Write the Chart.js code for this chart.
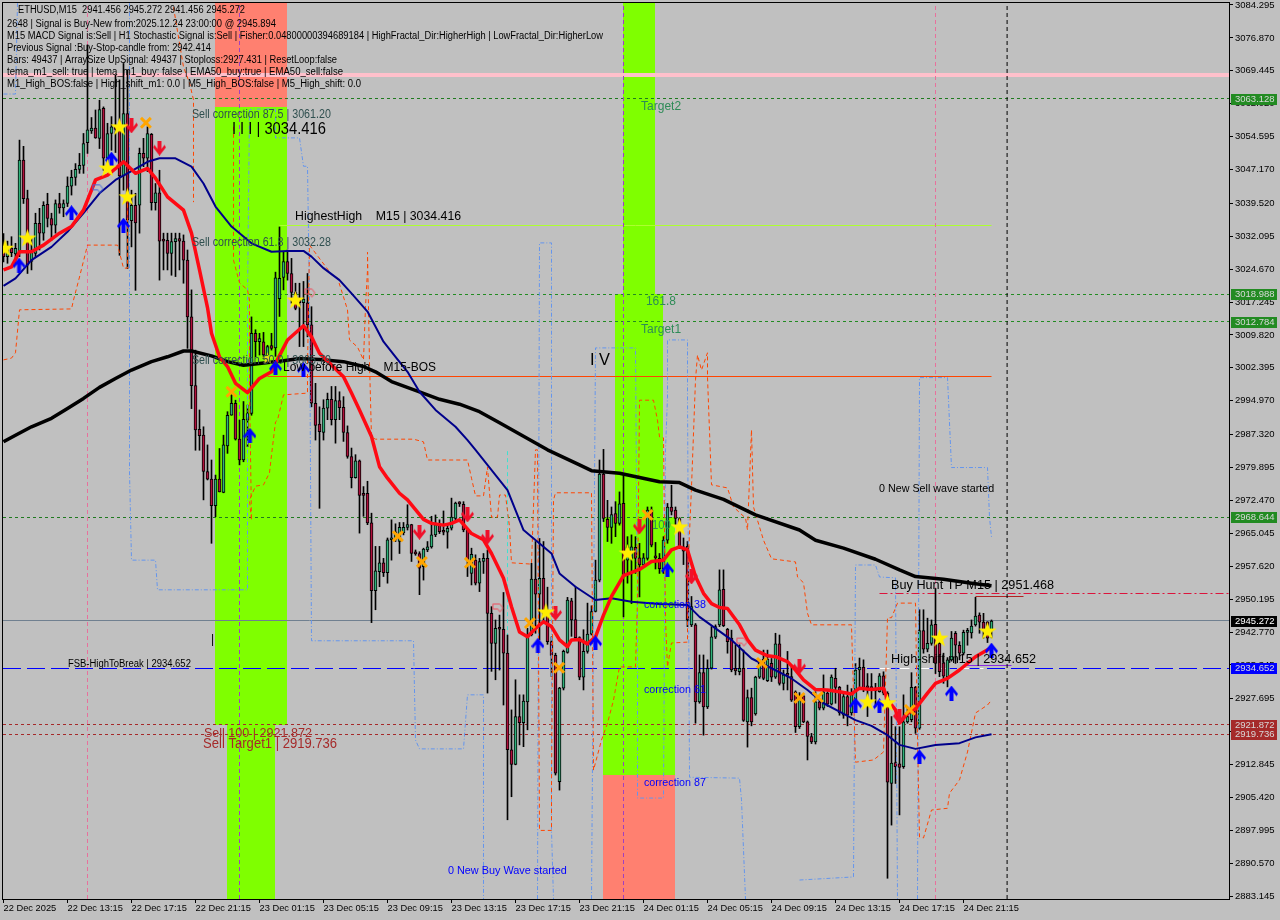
<!DOCTYPE html>
<html>
<head>
<meta charset="utf-8">
<title>ETHUSD,M15</title>
<script src="https://cdn.jsdelivr.net/npm/chart.js@4/dist/chart.umd.js"></script>
<style>
  html, body { margin: 0; padding: 0; background: #c0c0c0; }
  canvas { display: block; }
</style>
</head>
<body>
<canvas id="chart-main" width="1280" height="920"></canvas>
<script>
// candles, one value per 15 minute bar
const barOpen = [
  3029.4,3027.5,3029.4,3028.1,3028.6,3049.3,3040.6,3026.4,3028.2,3035,
  3032.8,3039.3,3036.1,3034.6,3039.5,3038.5,3039.5,3043.4,3045.4,3047.2,
  3048.1,3053.2,3055.9,3056.5,3054.2,3061,3049.7,3055.3,3056.8,3056.8,
  3045.7,3059.8,3035.6,3039.1,3039.1,3050.8,3049.7,3055.1,3039.7,3041.9,
  3031.2,3031.2,3028.2,3030.9,3031.6,3031,3026.7,3013.9,2998.4,2988.5,
  2987.2,2979,2977.3,2971.3,2977.3,2974.3,2984.8,2991.7,2994.4,2986.3,
  2981.6,2990.6,2992.1,3010.2,3008.3,3008.3,3005.3,3007.4,3006.9,3018,
  3022.8,3026.4,3023.7,3019.4,3017.7,3017.1,3017.1,3012.1,2994.4,2989.7,
  2987.8,2993.3,2995.3,2990.7,2995,2993.5,2987.8,2982.4,2977.6,2981.4,
  2974.1,2974.1,2967.4,2952.1,2956.4,2958.4,2956.2,2963.6,2963.7,2963.2,
  2965.2,2966.4,2967,2960.5,2960.5,2957.5,2961.3,2962,2964.7,2967,
  2965.4,2965.3,2966.2,2968.4,2971.9,2971.6,2965.8,2956,2959,2953.8,
  2958.7,2959.4,2947,2940.2,2943.6,2943.4,2938,2916.2,2912.9,2923.7,
  2922.3,2927,2942.1,2954.7,2951.3,2954.9,2947,2940.6,2937.5,2909,
  2930.1,2938.2,2949.8,2945.6,2941.5,2932.6,2938.4,2942.3,2947.4,2954.5,
  2978.4,2968.2,2966.4,2969.5,2967.3,2971.8,2959,2959.4,2961.9,2959.5,
  2957.9,2959.4,2970.3,2960,2959.4,2957.1,2963.5,2971,2970.3,2968.4,
  2962,2962.1,2944.4,2944.4,2927,2933.6,2925.9,2934.6,2941.6,2944.4,
  2952.4,2943.4,2941.4,2934.6,2933.8,2934.6,2922.5,2928,2924.3,2932.6,
  2936.6,2931.8,2935.7,2932.6,2940.1,2931.2,2933.1,2932.7,2929.3,2921.4,
  2928.4,2922.5,2919.2,2918,2927,2925.6,2929,2926.5,2932.3,2930.3,
  2924,2928.2,2924.5,2927.4,2934.2,2934.8,2930.4,2930.2,2930,2929.3,
  2932.9,2929,2908.6,2913.3,2913,2912.4,2922.5,2923,2930.3,2921.1,
  2943.1,2938.9,2940.2,2944.5,2940.2,2935.8,2932.7,2936.5,2942.5,2939.8,
  2938,2942.7,2942.6,2944.4,2946.6,2945,2945.1,2943.1
];
const barHigh = [
  3032.7,3031,3032,3030.5,3053.8,3052.4,3042.5,3032,3037.3,3038.4,
  3039.9,3041.8,3037.3,3040.3,3041.8,3040.3,3045.5,3047,3048.5,3050.8,
  3055.3,3075.3,3058.9,3060.6,3062.8,3061.3,3057.6,3059.1,3068.5,3067.4,
  3071.1,3069.6,3042.5,3041.8,3052,3054.2,3056.8,3055.3,3044,3047,
  3032.8,3032.8,3032.8,3032.8,3032.8,3032.4,3029,3020,3006.4,2992.9,
  2989.1,2985,2981.6,2978.2,2984.2,2987.2,2992.5,2996.3,2995.1,2990.6,
  2994.8,2994,3013.9,3011,3010.2,3010.4,3007.5,3010.2,3024,3034.2,
  3028.6,3029,3027.1,3021.5,3021.5,3021.9,3023.7,3016.2,2998.9,2993.6,
  2995.2,2996.7,2998.2,2998.2,2997,2995.9,2989.3,2984.3,2982.8,2981.6,
  2975.6,2976.8,2969.6,2962.1,2962.1,2959.4,2964,2968.1,2967.2,2967.5,
  2967.5,2971.5,2967.1,2961.3,2960.9,2961.7,2963.2,2968.9,2969.2,2968.1,
  2970.1,2967.3,2973,2972.1,2972.2,2972.2,2966.2,2961.7,2960.2,2959.4,
  2960.5,2961.3,2948.5,2945.5,2946.6,2951.7,2942.1,2925.2,2932,2928.6,
  2928.6,2943.6,2958.3,2963.2,2963.9,2963.2,2952.9,2941.7,2938,2930.3,
  2938.7,2950.6,2950.4,2953,2941.7,2943.3,2949.3,2948.7,2959,2981.6,
  2984,2972.5,2971,2972.2,2974.4,2978.6,2964.3,2964.7,2964.3,2962.8,
  2960.5,2971,2971,2963,2960.5,2964.3,2971.8,2975.9,2971,2968.6,
  2964,2963.2,2950.8,2944.7,2937.6,2937.6,2936.5,2944,2944.4,2956.8,
  2956.8,2943.6,2943.2,2939.9,2939.9,2938.7,2929.7,2930.1,2932.8,2936.5,
  2938.7,2938.7,2936.8,2942.5,2942.1,2934.2,2938.4,2935,2929.5,2929.1,
  2928.6,2922.7,2919.9,2929.3,2927.8,2933.1,2929.3,2933.1,2934.6,2930.5,
  2929.3,2930.8,2930,2935.7,2936.9,2936.5,2933.4,2933.4,2931.2,2933.4,
  2933.8,2929.3,2923.7,2921.4,2921.4,2928.6,2925.5,2933.6,2930.5,2947.8,
  2947.8,2945.9,2945.5,2952.6,2941,2938,2937,2942.9,2942.9,2940.6,
  2943.2,2943.6,2945.5,2950.6,2947.1,2947,2945.1,2945.5
];
const barLow = [
  3026.3,3026,3027.5,3026,3027.5,3039.5,3023.7,3024.5,3027.5,3029,
  3031.2,3034.2,3031.2,3032.8,3037.3,3036.5,3038.8,3041.4,3043.6,3046.3,
  3046.3,3050.8,3055.3,3054.2,3051.9,3047,3047,3051.5,3051,3027.8,
  3042.5,3024.8,3029.7,3019.9,3032.8,3047.8,3046.7,3038,3038,3022.2,
  3024.5,3024.5,3023.3,3023,3024.5,3021.5,3006.8,2993.2,2983.8,2983.8,
  2972.6,2977.1,2962.8,2968.8,2974.4,2974.2,2983.1,2991.7,2986.1,2980.5,
  2981.2,2984.6,2991.7,3004.9,3005.3,3004.5,3003.4,3006.4,3005,3014,
  3020,3022.2,3017,3015.5,3007.2,3007.2,3009.4,2993.6,2986.1,2970.7,
  2986.1,2990.7,2989.5,2985.4,2990.7,2985.8,2982,2975.3,2977.5,2965.1,
  2968.9,2967,2944.9,2947.8,2953,2955.3,2953.8,2959,2963.2,2960.5,
  2964.7,2965.8,2958.7,2960.1,2951.2,2954.5,2960.9,2961.7,2964.3,2965,
  2964.7,2961.7,2965.8,2968.1,2971.1,2965.4,2955.3,2953.4,2953.4,2951.9,
  2956,2929,2933.9,2932,2934.2,2926.3,2900.4,2905.6,2912.8,2917.3,
  2916.9,2920.7,2941.9,2942.5,2941,2945,2940,2932.7,2910.5,2907.1,
  2929.7,2938,2941.8,2941.3,2932,2929.7,2938,2942.1,2947.3,2954.1,
  2967.7,2963.2,2962.8,2964.3,2966.9,2946.2,2953.8,2949.2,2956,2950.7,
  2957.5,2959,2962,2957,2956,2956,2962.8,2969.2,2966.9,2961.6,
  2958,2944,2944,2922.2,2926.7,2919.5,2925.5,2934.4,2941.3,2944,
  2944,2938,2933.8,2933.1,2933.1,2922.6,2916.8,2921.6,2924,2932.3,
  2932,2931.6,2931.6,2932.3,2930.8,2929.7,2929.7,2927.1,2920.1,2921,
  2922.3,2913.9,2917.6,2917.5,2925.2,2925.2,2926,2926.3,2926.7,2924,
  2923.3,2921.6,2924,2925.2,2930.4,2929.3,2923.7,2927.4,2925.9,2929.2,
  2928.6,2887.2,2899.2,2908.6,2901.5,2912,2922.2,2922.5,2919.9,2920.8,
  2938,2938.3,2939.8,2933.4,2932.7,2931.2,2930.4,2936.2,2935.7,2936.5,
  2937.6,2939.8,2941.4,2944.1,2942.5,2941.4,2940.4,2941.456
];
const barClose = [
  3027.5,3029.4,3028.4,3029.4,3049.3,3040.6,3025.6,3029,3035,3032.8,
  3039.1,3036.1,3034.6,3039.5,3038.5,3039.5,3043.4,3045.4,3047.2,3048.1,
  3053,3056.1,3056.5,3054.3,3060.7,3049.7,3055.3,3056.8,3056.2,3045.7,
  3059.8,3035.8,3039.1,3035.1,3050.8,3049.7,3055.3,3039.7,3041.9,3031,
  3031,3028.2,3030.9,3031.6,3031,3026.7,3013.9,2998.4,2988.4,2987.1,
  2979,2977.3,2971.3,2977.3,2974.4,2985,2991.7,2994.4,2986.3,2981.6,
  2990.8,2992.1,3010.2,3008.3,3009,3005.3,3007.2,3006.8,3022.7,3022.6,
  3026.4,3023.7,3019.4,3015.8,3017.1,3017.9,3012.1,2994.4,2989.4,2988,
  2993.3,2995.3,2990.7,2995,2993.4,2987.8,2982.4,2977.6,2981.4,2973.6,
  2973.6,2967.4,2952.1,2956.6,2958.4,2956.2,2963.6,2963.7,2965.4,2966.4,
  2966.4,2967,2960.5,2960.4,2957.2,2961.5,2962,2964.7,2967,2965.4,
  2965.3,2966.2,2968.7,2971.9,2971.7,2965.8,2959,2960.3,2953.8,2958.7,
  2959.4,2947,2940.2,2943.6,2943.4,2938,2916.2,2912.9,2923.7,2922.3,
  2927.2,2942.1,2954.7,2951.3,2954.9,2947,2940.6,2937.5,2910.9,2930.1,
  2938.4,2950,2945.5,2941.5,2932.6,2938.4,2942.3,2947.4,2954.5,2978.4,
  2968.4,2966.4,2969.3,2967.3,2971.7,2955.2,2962,2962,2959.4,2957.9,
  2959.5,2970.3,2962.4,2959.5,2957.1,2963.5,2971,2970,2968.4,2962,
  2961,2945.5,2948.5,2927,2933.6,2925.9,2934.6,2941.7,2944,2952.3,
  2944.2,2940.6,2934.2,2934,2934.6,2922.8,2928,2922.5,2932.6,2935.7,
  2932.3,2936.6,2932.6,2940.1,2931.2,2933.1,2933,2927.4,2921.4,2928.4,
  2922.5,2919.2,2918,2927,2925.6,2929.3,2926.5,2932.6,2930.3,2924.5,
  2928.2,2924,2929,2934.2,2934.8,2929.7,2930.2,2930,2929.5,2932.9,
  2929,2908.9,2913.2,2912.4,2912.2,2922.5,2923.7,2930.3,2921.1,2943.1,
  2938.9,2940.2,2944.4,2935.7,2933.8,2932.8,2936.5,2941.4,2939.8,2938,
  2942.7,2943,2944.1,2946.4,2945,2943.2,2941.4,2945.272
];

// moving averages, read at bar positions [bar index], [price]
const fastBars = [0,2,4,7,10,14,17,20,23,26,30,33,36,38,41,45,47,49,51,52,54,56,58,61,64,67,68,71,75,77,79,85,87,89,92,94,96,99,101,105,107,110,112,114,117,120,122,125,127,129,131,133,135,137,139,141,142,144,146,148,150,152,155,159,162,165,167,169,171,173,175,177,179,181,184,186,188,191,193,196,198,200,203,206,209,212,214,217,220,221,223,224,226,228,231,233,236,239,243,247];
const fastVals = [3024.5,3025.2,3028.6,3028.6,3030.1,3032.8,3034.3,3038,3044.8,3045.9,3048.9,3046.3,3047.4,3045.2,3041,3038,3032.8,3024.5,3016,3010.2,3004.9,3002.7,2998.9,2996.8,3000,3001.5,3003.4,3008.7,3011.9,3009.4,3005.7,3000.4,2996.7,2992.9,2986.9,2980.1,2977.5,2974.1,2972.6,2968.2,2967.3,2966.9,2967.3,2968.1,2965,2963.6,2960.5,2954.9,2948.5,2942.8,2941.7,2943.6,2945.1,2944,2941,2939.5,2941,2941.1,2940.1,2941.7,2946.6,2950.8,2955.5,2956.9,2958.7,2959,2961.3,2962,2961.3,2955.3,2951.5,2949.2,2948.3,2948.1,2944.4,2941,2938.7,2937.4,2937.2,2936.1,2934.2,2932,2929.8,2929.7,2929.3,2928.8,2930.1,2929.8,2930.1,2927.5,2925.2,2922.2,2924.4,2925.5,2929,2931.2,2932.3,2934.2,2937.2,2939.3];
const slowBars = [0,3,7,12,16,20,24,28,31,36,39,43,47,50,53,57,62,67,71,75,77,80,84,87,91,95,98,101,104,108,113,116,118,126,130,137,139,143,148,152,157,164,171,174,178,182,187,192,197,201,205,209,213,217,221,224,228,233,239,243,247];
const slowVals = [3020.9,3022.6,3026.7,3029.7,3033.1,3037.3,3041.8,3044.8,3046.3,3048.9,3049.7,3049.7,3047.8,3044,3038.8,3034.3,3030.5,3028.6,3028.8,3028.8,3027.5,3024.9,3022.2,3019.2,3015.1,3008.3,3004.9,3001.5,2997,2992.9,2989.1,2986.1,2983.9,2974.8,2965.8,2960.5,2956,2953,2950,2950.4,2949.6,2949.1,2948.9,2946.2,2943.6,2941,2936.8,2934.6,2932.3,2929.7,2926.7,2924.8,2922.9,2921.6,2919.5,2917.3,2916.4,2917.3,2917.7,2919,2919.7];
const longBars = [0,3,7,12,16,20,24,28,32,37,41,45,47,52,56,60,64,70,74,79,85,90,93,97,104,109,114,119,124,136,144,147,154,164,169,173,180,188,199,203,210,218,224,228,235,242,247];
const longVals = [2985.7,2987.2,2989.1,2991,2993.2,2995.5,2998,3000,3001.9,3003.8,3004.9,3006.2,3006.2,3005.1,3003.8,3003,3003.4,3004,3004.5,3004.3,3003.8,3002.7,3001.5,2999.3,2997,2995.3,2994.2,2992.5,2990,2983.9,2980.5,2979.2,2978.6,2976.7,2976.5,2974.8,2972.7,2969.2,2965.8,2963.5,2961.7,2959.2,2956.8,2955.3,2954.7,2953.8,2953.2];

// stepped bands, null = gap in the line
const orangeBars = [0,2,3,4,17,17.5,19,21,28.5,29.5,30,31,31,31,42.5,45,46.5,47.5,47.5,47.5,47.5,57.5,57.5,59,61,61.5,61.5,62,61.5,63,65,66.5,67,68,68.5,70,76,76,76.5,81,82,83.5,85,86,86.5,88.5,90,90.5,91,91,91.5,92,93,102.5,105,106,116,117,118,120,121,122,123.5,124,125.5,126.5,127,132,133,133.5,134,137,137,137.5,138,147,147.5,149.5,151,152.5,154,158,158.5,159,162.5,163.5,164,165,165.5,166,167,171,171,172,173,173.5,174.5,176,176,177,181,182.5,185.5,186,187,187.5,190,192,198,198.5,200,201,202,212,213,217.5,220,221,222,223.5,224,228,228.5,229,230,232,236,236.5,239,241,243,246,247];
const orangeVals = [3004.2,3004.6,3005.8,3015.5,3015.7,3017.7,3022.9,3030.1,3030.1,3026.7,3024.9,3024.9,3040.3,null,3083.8,3070.3,3066.7,3062.9,3046.4,3039.8,null,3056.8,3026.7,3021.6,3020,3017.7,2998,2968,2972.6,2975.7,2976,2978.7,2982.7,2990.2,2990.6,2996.3,2996.7,3002.6,3030.1,3024.7,3023.4,3022.7,3018.4,3015.5,3008.7,3007.1,3004.2,3016.1,3024.5,3028.5,3003.5,2986.8,2986.3,2986.3,2985.7,2981.6,2981.6,2977.5,2973.5,2973.5,2980,2968.7,2968.7,2973.7,2973.7,2966.5,2958.4,2958.1,2983.9,2983.9,2898,2898,2907.8,2972.6,2974.2,2974.2,2911.6,2918.4,2922.2,2927.4,2934.9,2934.9,2950,2995.1,2995.1,2990.6,2986.8,2986.6,2945.5,2934.9,2940.3,2940.5,2954.5,2975.5,2999.7,3005.3,3001.9,3005.8,3000.3,2976,2975.3,2971,2968.5,2965.8,2988.4,2971,2963.5,2959.3,2958.6,2955.2,2953.9,2947,2944.4,2944.4,2913.4,2913.9,2915.7,2946,2946,2949.3,2949.3,2949.3,2919.1,2896.5,2896.3,2902.6,2903,2906.4,2909.4,2915.7,2924.5,2926.3,2927.4];
const blueBars = [0,3,3.5,3.5,31.5,31.5,32,38,38.5,61,61,61.5,62,68,68,74,75,76,76.5,77,102.5,103,104,115,116,120,120,120,133.5,134,137,137,137.5,137.5,147,148,158,158.5,158.5,165,165.5,166,166,171,171,171.5,184,184.5,185.5,185.5,199,212.5,213,218,219,223,223.5,223.5,228.5,229,236,237,246,246.5,247];
const blueVals = [3064.2,3064.2,3084.7,null,3084.7,2978.9,2959,2959,2952.3,2952.3,3017.7,3060.6,3060.8,3060.8,3054.3,3054.3,3047.9,3047.9,3017.7,2940.8,2940.8,2918.4,2916.4,2916.4,2928.6,2928.6,2882.5,null,2882.5,3030.6,3030.6,2898,2882.5,null,2882.5,3006.9,3006.9,2943.2,2905.3,2905.3,2983.9,2995.8,3008.7,3008.7,2996.3,2910,2909.8,2904.9,2882.5,null,2886.8,2887.5,2957.9,2957.9,2955.2,2955,2882.5,null,2882.5,3000.2,3000.2,2979.9,2979.9,2968.7,2964.2];

// signal marks
const upBars = [3.9,17,27,30,61.6,68,75,133.6,148,166,213,219,229,237,247];
const upVals = [3025.6,3037.4,3049.5,3034.6,2987.2,3002.4,3002,2939.8,2940.3,2956.8,2926.3,2926.1,2914.6,2929,2938.7];
const downBars = [32,39,104,116,121,138,159,172,199,224];
const downVals = [3057,3052,2965.3,2969.2,2964.2,2947,2966.5,2955.2,2934.9,2923.6];
const crossBars = [35.6,57,98.6,104.6,116.6,131.6,138.9,161,189.6,199,203.6,226.6];
const crossVals = [3057.7,2997,2964.4,2958.6,2958.4,2944.8,2934.7,2969.2,2935.8,2927.9,2928.1,2925.2];
const starBars = [0.4,6,26,29,31,73,135.6,156,169,216,221,234,246];
const starVals = [3029.4,3031.7,3047.5,3056.8,3041,3017.7,2947.3,2960.6,2966.5,2927,2926.8,2941.4,2943];
const smallStarBars = [66];
const smallStarVals = [3004.6];
const hollowBlueBars = [23.6];
const hollowBlueVals = [3042.8];
const hollowRedBars = [76.6,123.6,184.6];
const hollowRedVals = [3019.3,2948.2,2940.5];

// axes
const timeBars = [0,16,32,48,64,80,96,112,128,144,160,176,192,208,224,240];
const timeLabels = ['22 Dec 2025','22 Dec 13:15','22 Dec 17:15','22 Dec 21:15','23 Dec 01:15','23 Dec 05:15','23 Dec 09:15','23 Dec 13:15','23 Dec 17:15','23 Dec 21:15','24 Dec 01:15','24 Dec 05:15','24 Dec 09:15','24 Dec 13:15','24 Dec 17:15','24 Dec 21:15'];
const priceTicks = [3084.295,3076.87,3069.445,3062.02,3054.595,3047.17,3039.52,3032.095,3024.67,3017.245,3009.82,3002.395,2994.97,2987.32,2979.895,2972.47,2965.045,2957.62,2950.195,2942.77,2935.345,2927.695,2920.27,2912.845,2905.42,2897.995,2890.57,2883.145];

// price tags on the right axis
const tagPrices = [3063.128,3018.988,3012.784,2968.644,2945.272,2934.652,2921.872,2919.736];
const tagColors = ['#228b22','#228b22','#228b22','#228b22','#000000','#0000ff','#a52a2a','#a52a2a'];

const BAR_MIN = -0.125, BAR_MAX = 306.375;
const PRICE_MIN = 2882.52, PRICE_MAX = 3084.746;

// horizontal levels [price, from bar, to bar, colour, width, dash]
const levels = [
  [3068.3, BAR_MIN, BAR_MAX, '#ffc0cb', 4, []],
  [3063.128, BAR_MIN, BAR_MAX, '#1f7a1f', 1, [3,3]],
  [3018.988, BAR_MIN, BAR_MAX, '#228b22', 1, [3,3]],
  [3012.784, BAR_MIN, BAR_MAX, '#228b22', 1, [3,3]],
  [2968.644, BAR_MIN, BAR_MAX, '#1f7a1f', 1, [3,3]],
  [2945.272, BAR_MIN, BAR_MAX, '#708090', 1, []],
  [2934.652, BAR_MIN, BAR_MAX, '#0000ff', 1, [18,6]],
  [2921.872, BAR_MIN, BAR_MAX, '#a52a2a', 1, [3,3]],
  [2919.736, BAR_MIN, BAR_MAX, '#a52a2a', 1, [3,3]],
  [3034.416, 69, 247, '#adff2f', 1, []],
  [3000.45, 66, 247, '#ff4500', 1, []],
  [2951.468, 219, BAR_MAX, '#dc143c', 1, [8,3,2,3]],
  [2950.7, 243, 255, '#b22222', 1, []],
  [2935.2, 240.5, 252, '#8a2be2', 1, []],
  [2934.652, 219, 245, '#ffffff', 1, [10,10]]
];

// coloured zones [from bar, to bar, top price, bottom price, colour]
const zones = [
  [52.875, 70.875, PRICE_MAX, 3061.3, '#ff8070'],
  [52.875, 70.875, 3061.3, 2921.872, '#7fff00'],
  [55.875, 67.875, 2921.872, PRICE_MIN, '#7fff00'],
  [154.875, 162.875, PRICE_MAX, 3018.988, '#7fff00'],
  [152.875, 164.875, 3018.988, 2968.644, '#7fff00'],
  [149.875, 167.875, 2968.644, 2910.5, '#7fff00'],
  [149.875, 167.875, 2910.5, PRICE_MIN, '#ff8070']
];

// vertical markers [bar, from price, to price, colour]
const markers = [
  [21, PRICE_MIN, PRICE_MAX, '#e8709c'],
  [59, PRICE_MIN, PRICE_MAX, '#a040c0'],
  [155, PRICE_MIN, PRICE_MAX, '#a040c0'],
  [233, PRICE_MIN, PRICE_MAX, '#e8709c'],
  [250.9, PRICE_MIN, PRICE_MAX, '#000000'],
  [126, 2903.7, 2983.9, '#40e0d0']
];

// chart labels [bar, price, text, colour, font px, width px]
const labels = [
  [47.1, 3059.5, 'Sell correction 87.5 | 3061.20', '#2f4f4f', 12, 139],
  [57.1, 3056.3, 'I I I | 3034.416', '#000000', 17, 94],
  [72.9, 3036.5, 'HighestHigh    M15 | 3034.416', '#000000', 13, 166],
  [47.1, 3030.6, 'Sell correction 61.8 | 3032.28', '#2f4f4f', 12, 139],
  [47.1, 3004, 'Sell correction 50.0 | 3005.79', '#2f4f4f', 12, 139],
  [69.9, 3002.4, 'Low before High    M15-BOS', '#000000', 13, 153],
  [159.4, 3061.3, 'Target2', '#2e8b57', 12, 41],
  [160.6, 3017.3, '161.8', '#2e8b57', 12, 30],
  [159.4, 3011, 'Target1', '#2e8b57', 12, 41],
  [146.6, 3004, 'I V', '#000000', 17, 20],
  [51.9, 2941, '|', '#000000', 12, 4],
  [162.1, 2966.7, '100', '#2e8b57', 12, 19],
  [160.1, 2948.9, 'correction 38', '#0000ff', 11, 62],
  [160.1, 2929.7, 'correction 61', '#0000ff', 11, 62],
  [160.1, 2908.7, 'correction 87', '#0000ff', 11, 62],
  [218.9, 2975.1, '0 New Sell wave started', '#000000', 11, 115],
  [111.1, 2888.9, '0 New Buy Wave started', '#0000ff', 11, 119],
  [221.9, 2953.4, 'Buy Hunt TP M15 | 2951.468', '#000000', 13, 163],
  [221.9, 2936.5, 'High-shift m15 | 2934.652', '#000000', 13, 145],
  [16.1, 2935.6, 'FSB-HighToBreak | 2934.652', '#000000', 10, 123],
  [50.1, 2920, 'Sell 100 | 2921.872', '#a52a2a', 13, 108],
  [49.9, 2917.5, 'Sell Target1 | 2919.736', '#a52a2a', 14, 134]
];

// info block in the top left corner [x, y, text, width]
const infoLines = [
  [18, 10, 'ETHUSD,M15  2941.456 2945.272 2941.456 2945.272', 227],
  [7, 24, '2648 | Signal is Buy-New from:2025.12.24 23:00:00 @ 2945.894', 269],
  [7, 36, 'M15 MACD Signal is:Sell | H1 Stochastic Signal is:Sell | Fisher:0.04800000394689184 | HighFractal_Dir:HigherHigh | LowFractal_Dir:HigherLow', 596],
  [7, 48, 'Previous Signal :Buy-Stop-candle from: 2942.414', 204],
  [7, 60, 'Bars: 49437 | ArraySize UpSignal: 49437 | Stoploss:2927.431 | ResetLoop:false', 330],
  [7, 72, 'tema_m1_sell: true | tema_m1_buy: false | EMA50_buy:true | EMA50_sell:false', 336],
  [7, 84, 'M1_High_BOS:false | High_shift_m1: 0.0 | M5_High_BOS:false | M5_High_shift: 0.0', 354]
];

const FONT = '"Liberation Sans", Arial, sans-serif';
const GREEN = '#2fb27a';
const RED = '#b0103c';

function pairs(xs, ys) {
  return xs.map((x, k) => ({ x, y: ys[k] }));
}

// point icons, drawn once on small canvases
function icon(w, h, draw) {
  const c = document.createElement('canvas');
  c.width = w;
  c.height = h;
  draw(c.getContext('2d'), w, h);
  return c;
}
function arrowPath(ctx, w, h) {
  ctx.beginPath();
  ctx.moveTo(w / 2, 0);
  ctx.lineTo(w, h * 0.55);
  ctx.lineTo(w - 1.5, h * 0.72);
  ctx.lineTo(w / 2 + 2, h * 0.45);
  ctx.lineTo(w / 2 + 2, h);
  ctx.lineTo(w / 2 - 2, h);
  ctx.lineTo(w / 2 - 2, h * 0.45);
  ctx.lineTo(1.5, h * 0.72);
  ctx.lineTo(0, h * 0.55);
  ctx.closePath();
}
const upIcon = icon(13, 15, (ctx, w, h) => {
  ctx.fillStyle = '#0000ff';
  arrowPath(ctx, w, h);
  ctx.fill();
});
const downIcon = icon(13, 15, (ctx, w, h) => {
  ctx.translate(0, h);
  ctx.scale(1, -1);
  ctx.fillStyle = '#f0102a';
  arrowPath(ctx, w, h);
  ctx.fill();
});
function starIcon(size, color) {
  return icon(size, size, (ctx, w, h) => {
    const cx = w / 2, cy = h / 2 + 0.5;
    ctx.fillStyle = color;
    ctx.beginPath();
    for (let k = 0; k < 10; k++) {
      const r = k % 2 ? size * 0.195 : size * 0.5;
      const a = -Math.PI / 2 + k * Math.PI / 5;
      ctx.lineTo(cx + r * Math.cos(a), cy + r * Math.sin(a));
    }
    ctx.closePath();
    ctx.fill();
  });
}
function hollowIcon(color) {
  return icon(13, 11, (ctx) => {
    ctx.strokeStyle = color;
    ctx.lineWidth = 1;
    ctx.beginPath();
    ctx.moveTo(1.5, 1.5);
    ctx.lineTo(8.5, 1.5);
    ctx.lineTo(11.5, 5.5);
    ctx.lineTo(8.5, 9.5);
    ctx.lineTo(6.5, 6.5);
    ctx.lineTo(1.5, 6.5);
    ctx.closePath();
    ctx.stroke();
  });
}

// zones go under the candles, levels and texts are snapped to whole pixels
const overlayPlugin = {
  id: 'overlay',
  beforeDatasetsDraw(chart) {
    const { ctx, scales: { x, y } } = chart;
    ctx.save();
    for (const [b0, b1, top, bottom, color] of zones) {
      const px0 = Math.round(x.getPixelForValue(b0));
      const px1 = Math.round(x.getPixelForValue(b1));
      const py0 = Math.round(y.getPixelForValue(top));
      const py1 = Math.round(y.getPixelForValue(bottom));
      ctx.fillStyle = color;
      ctx.fillRect(px0, py0, px1 - px0, py1 - py0);
    }
    for (const [price, b0, b1, color, width, dash] of levels) {
      const py = Math.floor(y.getPixelForValue(price)) + (width % 2 ? 0.5 : 0);
      ctx.strokeStyle = color;
      ctx.lineWidth = width;
      ctx.setLineDash(dash);
      ctx.beginPath();
      ctx.moveTo(x.getPixelForValue(b0), py);
      ctx.lineTo(x.getPixelForValue(b1), py);
      ctx.stroke();
    }
    ctx.restore();
  },
  afterDatasetsDraw(chart) {
    const { ctx, scales: { x, y } } = chart;
    ctx.save();
    ctx.textAlign = 'left';
    ctx.textBaseline = 'middle';
    for (const [bar, price, text, color, size, width] of labels) {
      ctx.font = size + 'px ' + FONT;
      ctx.fillStyle = color;
      ctx.fillText(text, x.getPixelForValue(bar), y.getPixelForValue(price), width);
    }
    ctx.font = '10px ' + FONT;
    ctx.fillStyle = '#000000';
    for (const [px, py, text, width] of infoLines) {
      ctx.fillText(text, px, py, width);
    }
    ctx.restore();
  },
  afterDraw(chart) {
    const { ctx, chartArea: a, scales: { y } } = chart;
    ctx.save();
    // frame
    ctx.strokeStyle = '#000000';
    ctx.lineWidth = 1;
    ctx.strokeRect(a.left - 0.5, a.top - 0.5, a.right - a.left + 1, a.bottom - a.top + 1);
    // price tags
    ctx.textAlign = 'left';
    ctx.textBaseline = 'middle';
    ctx.font = '9.5px ' + FONT;
    tagPrices.forEach((p, k) => {
      const py = Math.round(y.getPixelForValue(p));
      ctx.fillStyle = tagColors[k];
      ctx.fillRect(1231, py - 5, 46, 11);
      ctx.fillStyle = tagColors[k] === '#000000' ? '#ffffff' : '#d8d8d8';
      ctx.fillText(p.toFixed(3), 1235, py + 0.5);
    });
    ctx.restore();
  }
};

function lineSet(xs, ys, color, width, dash, order) {
  return {
    type: 'line',
    data: pairs(xs, ys),
    borderColor: color,
    borderWidth: width,
    borderDash: dash,
    borderJoinStyle: 'round',
    pointRadius: 0,
    tension: 0,
    spanGaps: false,
    order
  };
}
function pointSet(xs, ys, style, order, extra) {
  return Object.assign({
    type: 'line',
    data: pairs(xs, ys),
    showLine: false,
    pointStyle: style,
    pointRadius: 6,
    order
  }, extra);
}

const barIndex = barOpen.map((_, i) => i);
const bodyColors = barOpen.map((o, i) => barClose[i] >= o ? GREEN : RED);

const datasets = [];
// vertical markers
markers.forEach(([bar, from, to, color]) => {
  datasets.push(lineSet([bar, bar], [from, to], color, 1, [4, 3], 40));
});
// candles
datasets.push({
  type: 'bar',
  data: barIndex.map(i => ({ x: i, y: [barLow[i], barHigh[i]] })),
  backgroundColor: '#000000',
  barThickness: 1,
  grouped: false,
  order: 30
});
datasets.push({
  type: 'bar',
  data: barIndex.map(i => ({ x: i, y: [Math.min(barOpen[i], barClose[i]), Math.max(barOpen[i], barClose[i])] })),
  backgroundColor: bodyColors,
  borderColor: '#000000',
  borderWidth: 1,
  borderSkipped: false,
  barThickness: 3,
  minBarLength: 2,
  grouped: false,
  order: 29
});
// bands and averages
datasets.push(lineSet(blueBars, blueVals, '#6495ed', 1, [4, 2, 1, 2], 21));
datasets.push(lineSet(orangeBars, orangeVals, '#ff4500', 1, [4, 3], 20));
datasets.push(lineSet(longBars, longVals, '#000000', 3.5, [], 12));
datasets.push(lineSet(slowBars, slowVals, '#00008b', 2, [], 11));
datasets.push(lineSet(fastBars, fastVals, '#ff0a14', 3.5, [], 10));
// signals
datasets.push(pointSet(hollowBlueBars, hollowBlueVals, hollowIcon('#4169e1'), 5));
datasets.push(pointSet(hollowRedBars, hollowRedVals, hollowIcon('#f04a5a'), 5));
datasets.push(pointSet(crossBars, crossVals, 'crossRot', 4, { pointRadius: 7, pointBorderColor: '#ffa500', pointBorderWidth: 3 }));
datasets.push(pointSet(upBars, upVals, upIcon, 3));
datasets.push(pointSet(downBars, downVals, downIcon, 3));
datasets.push(pointSet(starBars, starVals, starIcon(19, '#ffee00'), 2));
datasets.push(pointSet(smallStarBars, smallStarVals, starIcon(13, '#e8d820'), 2));

new Chart(document.getElementById('chart-main'), {
  type: 'bar',
  data: { datasets },
  plugins: [overlayPlugin],
  options: {
    responsive: false,
    animation: false,
    layout: { autoPadding: false, padding: { left: 3, top: 3, right: 0, bottom: 0 } },
    plugins: { legend: { display: false }, tooltip: { enabled: false } },
    scales: {
      x: {
        type: 'linear',
        offset: false,
        min: BAR_MIN,
        max: BAR_MAX,
        grid: { drawOnChartArea: false, offset: false, color: '#000000', tickLength: 4 },
        border: { display: false },
        afterBuildTicks(scale) {
          scale.ticks = timeBars.map(value => ({ value }));
        },
        afterFit(scale) {
          scale.height = 21;
          scale.paddingLeft = 0;
          scale.paddingRight = 0;
        },
        ticks: {
          autoSkip: false,
          maxRotation: 0,
          align: 'start',
          padding: 0,
          color: '#000000',
          font: { family: FONT, size: 9.3 },
          callback(value) {
            return timeLabels[timeBars.indexOf(value)];
          }
        }
      },
      y: {
        position: 'right',
        min: PRICE_MIN,
        max: PRICE_MAX,
        grid: { drawOnChartArea: false, color: '#000000', tickLength: 4 },
        border: { display: false },
        afterBuildTicks(scale) {
          scale.ticks = priceTicks.map(value => ({ value }));
        },
        afterFit(scale) {
          scale.width = 51;
          scale.paddingTop = 0;
          scale.paddingBottom = 0;
        },
        ticks: {
          autoSkip: false,
          padding: 2,
          color: '#000000',
          font: { family: FONT, size: 9.5 },
          callback(value) {
            return value.toFixed(3);
          }
        }
      }
    }
  }
});
</script>
</body>
</html>
